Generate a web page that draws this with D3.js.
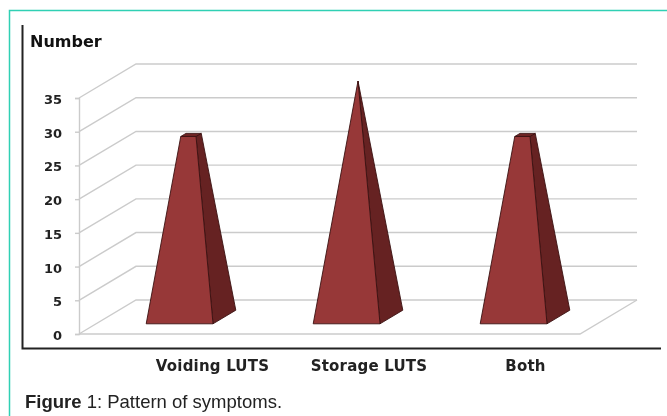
<!DOCTYPE html>
<html>
<head>
<meta charset="utf-8">
<script src="https://cdn.jsdelivr.net/npm/d3@7"></script>
<style>
  html, body { margin: 0; padding: 0; background: #fff; }
  /* reference is a soft upscaled image */
  svg { display: block; filter: blur(0.4px); }
</style>
</head>
<body>
<div id="chart"></div>
<script>
const categories = ["Voiding LUTS", "Storage LUTS", "Both"];
const patientCounts = [27, 35, 27];
const tickValues = [0, 5, 10, 15, 20, 25, 30, 35];

const width = 667;
const height = 416;

// depth of the 3d box, back wall is shifted this far from the front
const depthX = 57;
const depthY = 34;

const svg = d3.select("#chart")
  .append("svg")
  .attr("width", width)
  .attr("height", height);

const x = d3.scaleBand().domain(categories).range([79, 580]);
const y = d3.scaleLinear().domain([0, 35]).range([334, 98]);
const labelX = d3.scalePoint().domain(categories).range([212, 525]);

// data space (x px, value, depth 0..1) to screen
function project(px, value, depth) {
  return [px + depth * depthX, y(value) - depth * depthY];
}

function poly(points) {
  return points.map(p => p.join(",")).join(" ");
}

// page frame
svg.append("path")
  .attr("d", `M9.5,${height}V10.5H${width}`)
  .attr("fill", "none")
  .attr("stroke", "#30d0b4")
  .attr("stroke-width", 1.5);

// gridlines
const grid = svg.append("g")
  .attr("fill", "none")
  .attr("stroke", "#cbcbcb")
  .attr("stroke-width", 1.4);

tickValues.forEach(t => {
  const a = project(x.range()[0], t, 0);
  const b = project(x.range()[0], t, 1);
  const c = project(x.range()[1], t, 1);
  grid.append("polyline").attr("points", poly([a, b, c]));
});

// floor front and right edges
grid.append("polyline").attr("points", poly([
  project(x.range()[0], 0, 0),
  project(x.range()[1], 0, 0),
  project(x.range()[1], 0, 1)
]));

// value axis sits on the front of the left wall
const yAxis = svg.append("g")
  .attr("transform", `translate(${x.range()[0]},0)`)
  .call(d3.axisLeft(y).tickValues(tickValues).tickSize(4).tickPadding(13));

yAxis.select(".domain").attr("stroke", "#cbcbcb").attr("stroke-width", 1.4);
yAxis.selectAll(".tick line").attr("stroke", "#cbcbcb").attr("stroke-width", 1.4);
yAxis.selectAll("text")
  .attr("fill", "#222")
  .attr("dy", "0.42em")
  .style("font", "bold 13px 'DejaVu Sans'");

// pyramids, cut off flat at their value
const baseWidth = x.bandwidth() * 0.4;
const baseDepth = 0.4;

categories.forEach((cat, i) => {
  const value = patientCounts[i];
  const cx = x(cat) + x.bandwidth() / 2;
  const f = 1 - value / y.domain()[1];

  const bw = baseWidth / 2;
  const bd = baseDepth / 2;
  const tw = bw * f;
  const td = bd * f;

  const g = svg.append("g")
    .attr("stroke", "#3b1212")
    .attr("stroke-width", 0.9)
    .attr("stroke-linejoin", "round");

  // right side
  g.append("polygon")
    .attr("fill", "#662222")
    .attr("points", poly([
      project(cx + bw, 0, 0.5 - bd),
      project(cx + bw, 0, 0.5 + bd),
      project(cx + tw, value, 0.5 + td),
      project(cx + tw, value, 0.5 - td)
    ]));

  // top
  if (f > 0) {
    g.append("polygon")
      .attr("fill", "#6e2525")
      .attr("points", poly([
        project(cx - tw, value, 0.5 - td),
        project(cx + tw, value, 0.5 - td),
        project(cx + tw, value, 0.5 + td),
        project(cx - tw, value, 0.5 + td)
      ]));
  }

  // front
  g.append("polygon")
    .attr("fill", "#973838")
    .attr("points", poly([
      project(cx - bw, 0, 0.5 - bd),
      project(cx + bw, 0, 0.5 - bd),
      project(cx + tw, value, 0.5 - td),
      project(cx - tw, value, 0.5 - td)
    ]));
});

// heavy black axes around the plot
svg.append("path")
  .attr("d", "M22.5,25V348.5H661")
  .attr("fill", "none")
  .attr("stroke", "#222")
  .attr("stroke-width", 2);

svg.append("text")
  .attr("x", 30)
  .attr("y", 46.5)
  .attr("fill", "#111")
  .style("font", "bold 16px 'DejaVu Sans'")
  .text("Number");

const xAxis = svg.append("g")
  .attr("transform", "translate(0,357)")
  .call(d3.axisBottom(labelX).tickSize(0).tickPadding(3));

xAxis.select(".domain").remove();
xAxis.selectAll("text")
  .attr("fill", "#222")
  .style("font", "bold 15px 'DejaVu Sans'")
  .style("letter-spacing", "0.2px");

// caption
const caption = svg.append("text")
  .attr("x", 25)
  .attr("y", 408)
  .attr("fill", "#222")
  .style("font", "18.5px 'Liberation Sans'");
caption.append("tspan").attr("font-weight", "bold").text("Figure");
caption.append("tspan").text(" 1: Pattern of symptoms.");
</script>
</body>
</html>
